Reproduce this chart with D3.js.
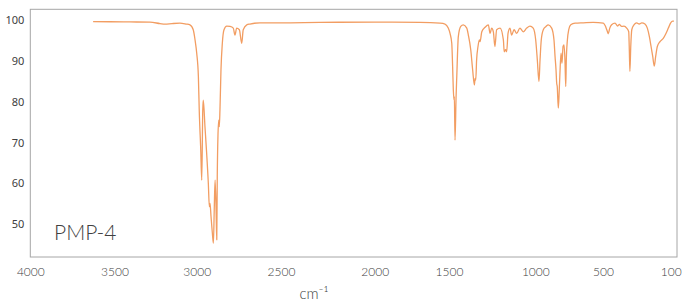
<!DOCTYPE html>
<html>
<head>
<meta charset="utf-8">
<script src="https://cdn.jsdelivr.net/npm/d3@7"></script>
<style>
  body { margin: 0; background: #fff; }
  svg { display: block; }
</style>
</head>
<body>
<div id="chart"></div>
<script>
// IR spectrum of PMP-4, transmittance (%) vs wavenumber (cm-1)
const wavenumber = [
  3627, 3527, 3406, 3284, 3223, 3193, 3150, 3102, 3065, 3041, 3021, 3010, 3000, 2990, 2985,
  2976, 2970, 2964, 2961, 2951, 2941, 2931, 2925, 2921, 2915, 2907, 2901, 2896, 2891, 2885,
  2881, 2878, 2874, 2869, 2866, 2862, 2856, 2848, 2838, 2822, 2802, 2783, 2773, 2763, 2747,
  2733, 2724, 2703, 2684, 2625, 2500, 2292, 2000, 1695, 1561, 1527, 1505, 1494, 1484, 1479,
  1475, 1471, 1469, 1465, 1459, 1455, 1446, 1432, 1417, 1397, 1388, 1374, 1363, 1353, 1349,
  1345, 1340, 1332, 1324, 1320, 1310, 1291, 1272, 1262, 1253, 1243, 1234, 1224, 1204, 1185,
  1180, 1172, 1166, 1158, 1147, 1137, 1123, 1108, 1089, 1070, 1050, 1031, 1012, 997, 985,
  973, 965, 956, 941, 921, 904, 879, 862, 854, 847, 842, 838, 830, 823, 818,
  810, 803, 795, 788, 781, 775, 771, 763, 753, 738, 706, 645, 572, 498, 486,
  476, 469, 460, 449, 429, 413, 404, 390, 376, 360, 348, 345, 341, 336, 330,
  317, 301, 286, 271, 252, 238, 226, 216, 206, 197, 189, 179, 163, 144, 128,
  114, 100, 88, 81
];
const transmittance = [
  99.6, 99.55, 99.5, 99.45, 99.1, 98.95, 99.1, 99.2, 99.0, 98.8, 97.6, 95.1, 91.9, 86.1, 78.0,
  68.2, 60.8, 78.0, 80.4, 73.9, 67.4, 60.0, 54.3, 55.1, 51.9, 47.8, 45.4, 53.5, 60.8, 53.5,
  46.2, 61.7, 71.5, 75.5, 73.9, 78.0, 87.8, 94.3, 97.6, 98.5, 98.4, 98.0, 96.3, 98.0, 97.6,
  94.3, 97.6, 98.8, 99.0, 99.3, 99.3, 99.4, 99.45, 99.4, 99.2, 99.0, 98.0, 96.7, 94.3, 88.6,
  82.9, 80.4, 81.2, 70.6, 81.2, 86.1, 95.9, 98.4, 98.8, 98.0, 96.3, 92.7, 87.8, 84.1, 85.7,
  85.3, 90.2, 93.5, 95.1, 94.7, 97.1, 98.2, 98.8, 96.7, 98.0, 97.1, 93.5, 97.6, 98.0, 95.1,
  92.2, 92.7, 92.2, 96.7, 98.0, 96.3, 97.6, 96.7, 98.0, 97.1, 98.0, 98.5, 98.0, 95.1, 90.2,
  84.9, 90.2, 95.1, 97.6, 98.4, 98.8, 98.0, 95.1, 91.0, 87.8, 84.5, 83.7, 78.4, 82.9, 87.0,
  91.9, 89.4, 93.5, 93.9, 90.2, 83.7, 90.2, 95.1, 97.6, 98.8, 99.2, 99.3, 99.4, 99.2, 98.5,
  97.4, 96.6, 98.0, 98.8, 99.2, 98.5, 98.9, 98.4, 98.5, 98.0, 97.1, 93.5, 87.4, 93.5, 97.6,
  98.8, 99.3, 99.0, 99.3, 99.0, 98.0, 95.9, 93.5, 91.0, 88.7, 91.0, 93.5, 94.7, 95.5, 96.7,
  98.0, 99.3, 99.7, 99.7
];
const xTicks = [4000, 3500, 3000, 2500, 2000, 1500, 1000, 500, 100];
const yTicks = [50, 60, 70, 80, 90, 100];
const sampleName = "PMP-4";
const xTitle = "cm\u207B\u00B9";

const W = 693, H = 303;
const plot = {left: 30.3, top: 9.3, right: 677, bottom: 257};

const svg = d3.select("#chart").append("svg")
    .attr("width", W)
    .attr("height", H);

// the printed tick labels are not evenly spaced, so the x scale follows them piece by piece
const xScale = d3.scaleLinear()
    .domain([4000, 3500, 3000, 2500, 2000, 1500, 1000, 500, 100, 63])
    .range([plot.left, 114.5, 196.7, 281, 374.7, 449, 535.3, 603, 670.7, plot.right]);
const yScale = d3.scaleLinear()
    .domain([42, 102.6])
    .range([plot.bottom, plot.top]);

// frame
svg.append("rect")
    .attr("x", plot.left)
    .attr("y", plot.top)
    .attr("width", plot.right - plot.left)
    .attr("height", plot.bottom - plot.top)
    .attr("fill", "none")
    .attr("stroke", "#a6a6a6")
    .attr("stroke-width", 1);

// axes
const xAxisG = svg.append("g")
    .attr("transform", "translate(0," + plot.bottom + ")")
    .call(d3.axisBottom(xScale).tickValues(xTicks).tickSize(0).tickPadding(10).tickFormat(d3.format("d")));
xAxisG.select(".domain").remove();
xAxisG.selectAll("text")
    .attr("font-family", "'Lato', 'DejaVu Sans', sans-serif")
    .attr("font-size", "12px")
    .attr("font-weight", 300)
    .attr("fill", "#404040");

const yAxisG = svg.append("g")
    .attr("transform", "translate(" + plot.left + ",0)")
    .call(d3.axisLeft(yScale).tickValues(yTicks).tickSize(0).tickPadding(6));
yAxisG.select(".domain").remove();
yAxisG.selectAll("text")
    .attr("font-family", "'Noto Sans', 'DejaVu Sans', sans-serif")
    .attr("font-size", "11px")
    .attr("fill", "#404040");

// spectrum
const points = wavenumber.map((w, i) => ({w: w, t: transmittance[i]}));
const line = d3.line()
    .x(d => xScale(d.w))
    .y(d => yScale(d.t))
    .curve(d3.curveMonotoneX);

svg.append("path")
    .datum(points)
    .attr("fill", "none")
    .attr("stroke", "#f29d62")
    .attr("stroke-width", 1.3)
    .attr("stroke-linejoin", "round")
    .attr("d", line);

// sample name inside the plot
svg.append("text")
    .attr("x", 54)
    .attr("y", 240)
    .attr("font-family", "'Lato', 'DejaVu Sans', sans-serif")
    .attr("font-size", "21px")
    .attr("font-weight", 300)
    .attr("fill", "#404040")
    .text(sampleName);

// x axis title
svg.append("text")
    .attr("x", 314)
    .attr("y", 299)
    .attr("text-anchor", "middle")
    .attr("font-family", "'Lato', 'DejaVu Sans', sans-serif")
    .attr("font-size", "15px")
    .attr("font-weight", 300)
    .attr("fill", "#404040")
    .text(xTitle);
</script>
</body>
</html>
